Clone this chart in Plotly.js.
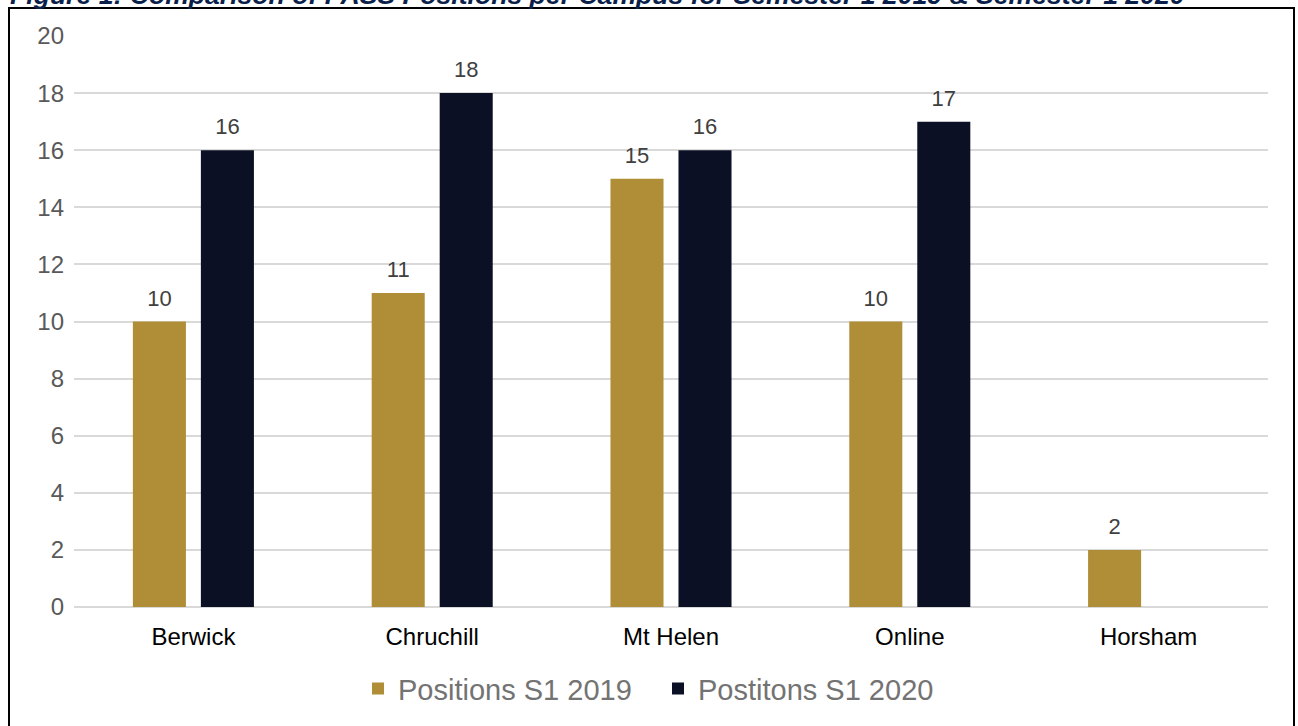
<!DOCTYPE html>
<html>
<head>
<meta charset="utf-8">
<script src="https://cdn.plot.ly/plotly-3.0.1.min.js"></script>
<style>
html,body{margin:0;padding:0;background:#fff;overflow:hidden;}
#chart{width:1298px;height:726px;}
</style>
</head>
<body>
<div id="chart"></div>
<script>
const campuses = ["Berwick", "Chruchill", "Mt Helen", "Online", "Horsham"];
const positions2019 = [10, 11, 15, 10, 2];
const positions2020 = [16, 18, 16, 17, null];
const seriesNames = ["Positions S1 2019", "Postitons S1 2020"];
const yTicks = [0, 2, 4, 6, 8, 10, 12, 14, 16, 18, 20];
const titleText = "Figure 1: Comparison of PASS Positions per Campus for Semester 1 2019 & Semester 1 2020";

const gold = "#B08D37";
const navy = "#0B1024";
const FF = "Liberation Sans, Arial, sans-serif";

const labelFont = {family: FF, size: 22, color: "#404040"};

const traces = [
  {
    type: "bar", name: seriesNames[0], x: campuses, y: positions2019,
    marker: {color: gold},
    text: positions2019.map(v => v == null ? "" : String(v)),
    textposition: "outside", textfont: labelFont, cliponaxis: false,
    hoverinfo: "x+y+name"
  },
  {
    type: "bar", name: seriesNames[1], x: campuses, y: positions2020,
    marker: {color: navy},
    text: positions2020.map(v => v == null ? "" : String(v)),
    textposition: "outside", textfont: labelFont, cliponaxis: false,
    hoverinfo: "x+y+name"
  }
];

const L = 74, R = 1268, T = 36, B = 609;
const W = 1298, H = 726;
const pw = R - L, ph = B - T;
const px = x => (x - L) / pw;
const py = y => (B - y) / ph;

const layout = {
  width: W, height: H,
  margin: {l: L, r: W - R, t: T, b: H - B, pad: 0},
  paper_bgcolor: "#ffffff", plot_bgcolor: "#ffffff",
  font: {family: FF},
  barmode: "group",
  bargap: 0.4305,
  bargroupgap: 0.22,
  showlegend: true,
  legend: {
    orientation: "h", x: px(658), xanchor: "center", y: py(691), yanchor: "middle",
    font: {family: FF, size: 29, color: "#737373"},
    entrywidth: 255,
    itemclick: false
  },
  xaxis: {
    type: "category", showgrid: false, zeroline: false, showline: false,
    ticks: "", tickfont: {family: FF, size: 24, color: "#000000"},
    ticklabelstandoff: 13
  },
  yaxis: {
    range: [0, 20], tickvals: yTicks, ticktext: yTicks.map(String),
    showgrid: true, gridcolor: "#D9D9D9", gridwidth: 2,
    zeroline: true, zerolinecolor: "#D9D9D9", zerolinewidth: 2,
    showline: false, ticks: "",
    tickfont: {family: FF, size: 24, color: "#595959"},
    ticklabelstandoff: 9
  },
  shapes: [
    {type: "rect", xref: "paper", yref: "paper",
     x0: px(9), x1: px(1294), y0: py(740), y1: py(8),
     line: {color: "#000000", width: 2}, fillcolor: "rgba(0,0,0,0)", layer: "below"}
  ],
  annotations: [
    {text: "<b><i>" + titleText + "</i></b>", xref: "paper", yref: "paper",
     x: px(8), xanchor: "left", y: py(12), yanchor: "bottom", showarrow: false,
     font: {family: FF, size: 26.6, color: "#0B1F4B"}}
  ]
};

Plotly.newPlot("chart", traces, layout, {displayModeBar: false, staticPlot: true}).then(gd => {
  // lift the outside value labels a little further above their bars
  gd.querySelectorAll(".bartext").forEach(t => {
    const tr = t.getAttribute("transform") || "";
    t.setAttribute("transform", "translate(0,-8) " + tr);
  });
});
</script>
</body>
</html>
